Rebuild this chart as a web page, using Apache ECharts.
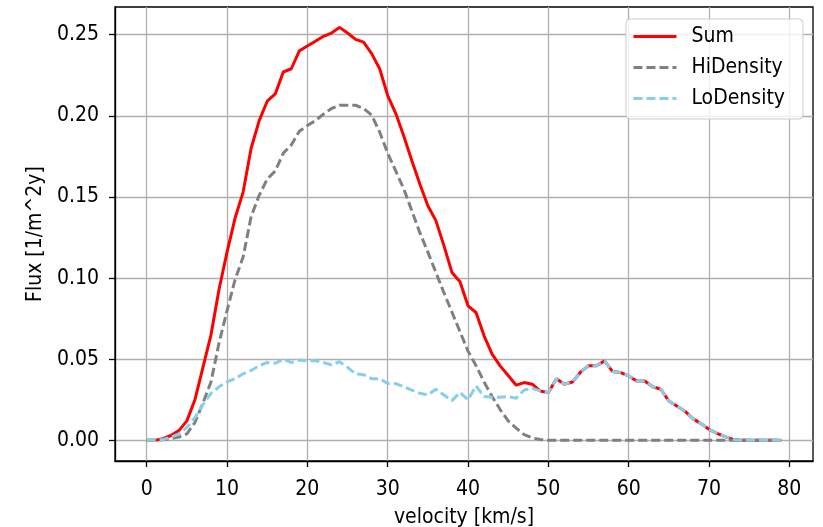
<!DOCTYPE html>
<html>
<head>
<meta charset="utf-8">
<script src="https://cdn.jsdelivr.net/npm/echarts@6/dist/echarts.min.js"></script>
<style>
html,body{margin:0;padding:0;background:#fff;}
#chart{width:823px;height:527px;}
</style>
</head>
<body>
<div id="chart"></div>
<script>
var velocity = [0,1,2,3,4,5,6,7,8,9,10,11,12,13,14,15,16,17,18,19,20,21,22,23,24,25,26,27,28,29,30,31,32,33,34,35,36,37,38,39,40,41,42,43,44,45,46,47,48,49,50,51,52,53,54,55,56,57,58,59,60,61,62,63,64,65,66,67,68,69,70,71,72,73,74,75,76,77,78,79];

var sumFlux = [0,0,0.001,0.003,0.006,0.012,0.025,0.045,0.065,0.093,
  0.116,0.137,0.153,0.180,0.197,0.209,0.2135,0.227,0.229,0.240,
  0.243,0.246,0.249,0.251,0.2545,0.251,0.2471,0.2454,0.2383,0.229,
  0.2125,0.2015,0.1875,0.1725,0.158,0.1446,0.1354,0.120,0.1035,0.0977,
  0.0829,0.0788,0.0644,0.0531,0.0459,0.040,0.034,0.0356,0.0346,0.0304,
  0.0294,0.038,0.0346,0.036,0.042,0.046,0.046,0.049,0.0424,0.0418,
  0.0397,0.0366,0.0366,0.033,0.0315,0.0243,0.0212,0.018,0.0134,0.0103,
  0.0068,0.0043,0.0023,0.0006,0,0,0,0,0,0];

var hiDensity = [0,0,0.0003,0.001,0.002,0.004,0.011,0.023,0.036,0.060,
  0.080,0.099,0.113,0.138,0.151,0.161,0.166,0.177,0.182,0.1905,
  0.194,0.197,0.201,0.2045,0.2065,0.2065,0.2065,0.2045,0.2005,0.190,
  0.177,0.166,0.155,0.1415,0.128,0.116,0.1035,0.091,0.079,0.067,
  0.055,0.046,0.036,0.027,0.019,0.012,0.0075,0.0035,0.0015,0.0005,
  0,0,0,0,0,0,0,0,0,0,
  0,0,0,0,0,0,0,0,0,0,
  0,0,0,0,0,0,0,0,0,0];

var loDensity = [0,0,0.0005,0.002,0.004,0.008,0.014,0.022,0.029,0.033,
  0.036,0.038,0.041,0.043,0.046,0.048,0.0475,0.050,0.048,0.0495,
  0.049,0.049,0.048,0.0465,0.0485,0.045,0.041,0.0405,0.038,0.038,
  0.035,0.035,0.033,0.031,0.029,0.028,0.0315,0.028,0.0245,0.0295,
  0.025,0.0335,0.027,0.0265,0.0265,0.027,0.026,0.031,0.032,0.0305,
  0.0294,0.038,0.0346,0.036,0.042,0.046,0.046,0.049,0.0424,0.0418,
  0.0397,0.0366,0.0366,0.033,0.0315,0.0243,0.0212,0.018,0.0134,0.0103,
  0.0068,0.0043,0.0023,0.0006,0,0,0,0,0,0];

var xTicks = [0,10,20,30,40,50,60,70,80];
var yTicks = [0,0.05,0.10,0.15,0.20,0.25];
var seriesNames = ['Sum','HiDensity','LoDensity'];

function pairs(ys){ return velocity.map(function(v,i){ return [v, ys[i]]; }); }

var FONT = "'DejaVu Sans Condensed', 'DejaVu Sans', sans-serif";
var chart = echarts.init(document.getElementById('chart'), null, {renderer:'canvas'});
chart.setOption({
  animation: false,
  backgroundColor: '#ffffff',
  textStyle: {fontFamily: FONT, color: '#000'},
  grid: {left: 115, right: 10, top: 7, bottom: 66, show: true, borderColor: '#000', borderWidth: 1.3,
         containLabel: false, outerBoundsMode: 'none'},
  legend: {
    data: seriesNames,
    orient: 'vertical',
    right: 20, top: 19,
    itemWidth: 43, itemHeight: 20, itemGap: 10,
    padding: [7, 18, 10, 6],
    backgroundColor: 'rgba(255,255,255,0.8)',
    borderColor: '#cccccc', borderWidth: 1, borderRadius: 4,
    itemStyle: {opacity: 0, color: 'rgba(0,0,0,0)', borderWidth: 0},
    lineStyle: {width: 3},
    textStyle: {fontFamily: FONT, fontSize: 21, color: '#000', padding: [0,0,0,10]}
  },
  xAxis: {
    type: 'value', min: -3.95, max: 82.95,
    name: 'velocity [km/s]', nameLocation: 'middle', nameGap: 46,
    nameTextStyle: {fontFamily: FONT, fontSize: 21, color: '#000'},
    axisLine: {show: true, onZero: false, lineStyle: {color: '#000', width: 1.3}},
    axisTick: {show: true, length: 6, customValues: xTicks, lineStyle: {color: '#000', width: 1.3}},
    axisLabel: {customValues: xTicks, margin: 18, fontFamily: FONT, fontSize: 21, color: '#000'},
    splitLine: {show: true, lineStyle: {color: '#b0b0b0', width: 1.3}}
  },
  yAxis: {
    type: 'value', min: -0.01272, max: 0.26705,
    name: 'Flux [1/m^2y]', nameLocation: 'middle', nameGap: 69, nameRotate: 90,
    nameTextStyle: {fontFamily: FONT, fontSize: 21, color: '#000'},
    axisLine: {show: true, onZero: false, lineStyle: {color: '#000', width: 1.3}},
    axisTick: {show: true, length: 6, customValues: yTicks, lineStyle: {color: '#000', width: 1.3}},
    axisLabel: {customValues: yTicks, margin: 16, fontFamily: FONT, fontSize: 21, color: '#000',
      formatter: function(v){ return v.toFixed(2); }},
    splitLine: {show: true, lineStyle: {color: '#b0b0b0', width: 1.3}}
  },
  series: [
    {name: 'Sum', type: 'line', data: pairs(sumFlux), symbol: 'none', showSymbol: false,
     lineStyle: {color: '#ff0000', width: 3}, itemStyle: {color: '#ff0000'}, z: 2},
    {name: 'HiDensity', type: 'line', data: pairs(hiDensity), symbol: 'none', showSymbol: false,
     lineStyle: {color: '#808080', width: 3, type: [9,4]}, itemStyle: {color: '#808080'}, z: 3},
    {name: 'LoDensity', type: 'line', data: pairs(loDensity), symbol: 'none', showSymbol: false,
     lineStyle: {color: '#87ceeb', width: 3, type: [9,4]}, itemStyle: {color: '#87ceeb'}, z: 4}
  ]
});
</script>
</body>
</html>
